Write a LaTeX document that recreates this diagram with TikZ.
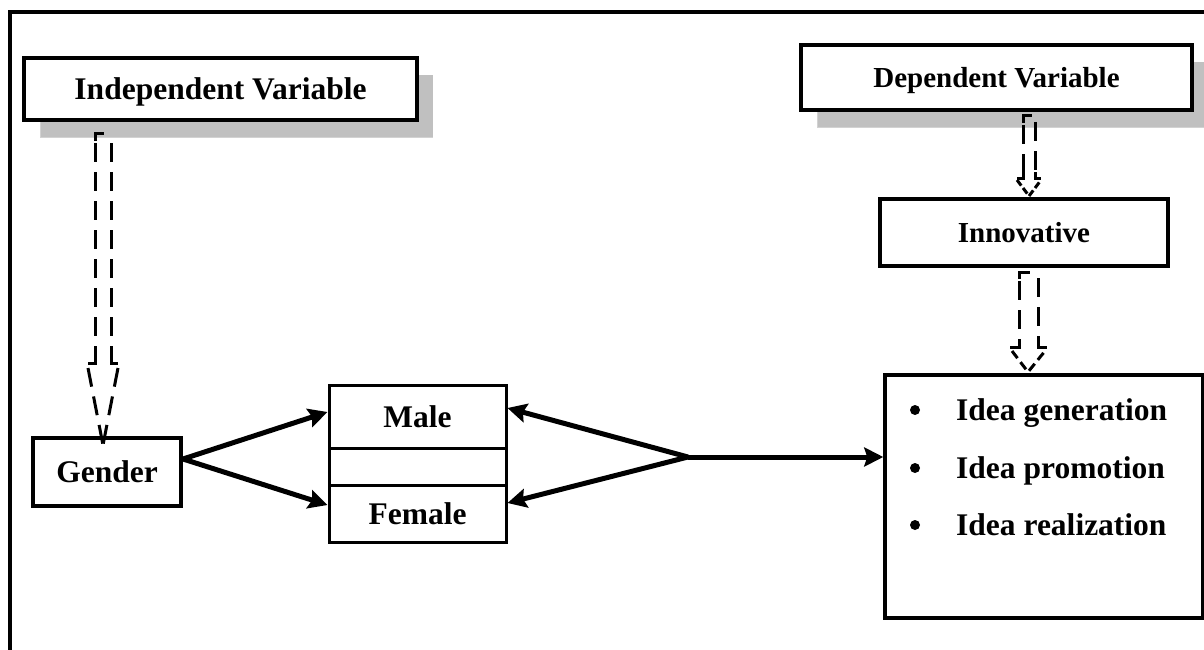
\documentclass[tikz,border=0pt]{standalone}
\usepackage{fontspec}
\setmainfont{Liberation Serif}
\usetikzlibrary{arrows.meta,calc}
\definecolor{shadowgray}{HTML}{C0C0C0}
\tikzset{
  box/.style={draw, line width=3.5pt, inner sep=0pt, fill=white,
    text height=21pt, text depth=0pt,
    font=\fontsize{31.5pt}{36pt}\selectfont\bfseries},
  smallbox/.style={box, text height=19.2pt,
    font=\fontsize{29pt}{34pt}\selectfont\bfseries},
  cell/.style={box, line width=3pt},
  arr/.style={line width=5pt, -{Stealth[length=19pt,width=19pt,inset=3pt]}},
  hollow/.style={line width=3pt, dash pattern=on 19pt off 10pt, line join=miter},
  capline/.style={line width=3pt, line join=miter},
  itemtext/.style={anchor=base west, inner sep=0pt,
    font=\fontsize{31.5pt}{36pt}\selectfont\bfseries}
}
\begin{document}
\begin{tikzpicture}[x=1pt,y=-1pt]
\useasboundingbox (0,0) rectangle (1204,650);
% outer frame
\draw[line width=4pt] (10,650) -- (10,12) -- (1210,12);

% shadows
\fill[shadowgray] (40,75) rectangle (433,137);
\draw[gray!35, line width=0.8pt] (40,120) -- (40,137) -- (433,137);
\fill[shadowgray] (817,62) rectangle (1210,127);
\draw[gray!35, line width=0.8pt] (817,110) -- (817,127) -- (1210,127);

% boxes
\node[box, minimum width=393pt, minimum height=62pt] (indep) at (220.5,89) {Independent Variable};
\node[smallbox, minimum width=391pt, minimum height=65pt] (dep) at (996.5,77.5) {Dependent Variable};
\node[smallbox, line width=4pt, minimum width=288pt, minimum height=67pt] (innov) at (1024,232.5) {Innovative};
\node[box, minimum width=318pt, minimum height=243pt] (idea) at (1044,496.5) {};
\node[box, minimum width=148pt, minimum height=68pt] (gender) at (107,472) {Gender};
\node[cell, minimum width=177pt, minimum height=63pt] (male) at (417.5,416.5) {Male};
\node[cell, minimum width=177pt, minimum height=37pt] (mid) at (417.5,466.5) {};
\node[cell, minimum width=177pt, minimum height=57pt] (female) at (417.5,513.5) {Female};

% idea list
\foreach \y/\t [count=\i] in {420/Idea generation, 478/Idea promotion, 535/Idea realization}{
  \fill (915,\y-10) circle (5pt);
  \node[itemtext] (item\i) at (956,\y) {\t};
}

% hollow dashed arrows (indep -> gender)
\draw[capline] (95,141) -- (95,134) -- (104,134);
\draw[hollow] (95,143) -- (95,355);
\draw[hollow] (111,143) -- (111,355);
\draw[capline] (95,355) -- (95,363) -- (88,363);
\draw[capline] (111,355) -- (111,363) -- (118,363);
\draw[hollow] (88,368) -- (103,445);
\draw[hollow] (118,368) -- (103,445);
% dep -> innov
\draw[capline] (1023,123) -- (1023,116) -- (1032,116);
\draw[hollow] (1023,125) -- (1023,172);
\draw[hollow] (1035,122) -- (1035,172);
\draw[capline] (1023,172) -- (1023,178) -- (1017,178);
\draw[capline] (1035,172) -- (1035,178) -- (1041,178);
\draw[hollow, dash pattern=on 7pt off 3pt] (1017,180) -- (1029,196) -- (1041,180);
% innov -> idea
\draw[capline] (1019,279) -- (1019,272) -- (1030,272);
\draw[hollow] (1019,281) -- (1019,341);
\draw[hollow] (1038,278) -- (1038,341);
\draw[capline] (1019,341) -- (1019,347) -- (1010,347);
\draw[capline] (1038,341) -- (1038,347) -- (1047,347);
\draw[hollow, dash pattern=on 9pt off 5pt] (1012,351) -- (1028,372) -- (1045,351);

% solid arrows
\coordinate (apexL) at (183,459);
\coordinate (apexR) at (688,457);
\draw[arr] (apexL) -- ([yshift=4.5pt]male.west);
\draw[arr] (apexL) -- ([yshift=8.5pt]female.west);
\draw[arr] (apexR) -- ([yshift=8.5pt]male.east);
\draw[arr] (apexR) -- ([yshift=10.5pt]female.east);
\draw[arr] (apexR) -- (idea.west |- apexR);
\end{tikzpicture}
\end{document}
